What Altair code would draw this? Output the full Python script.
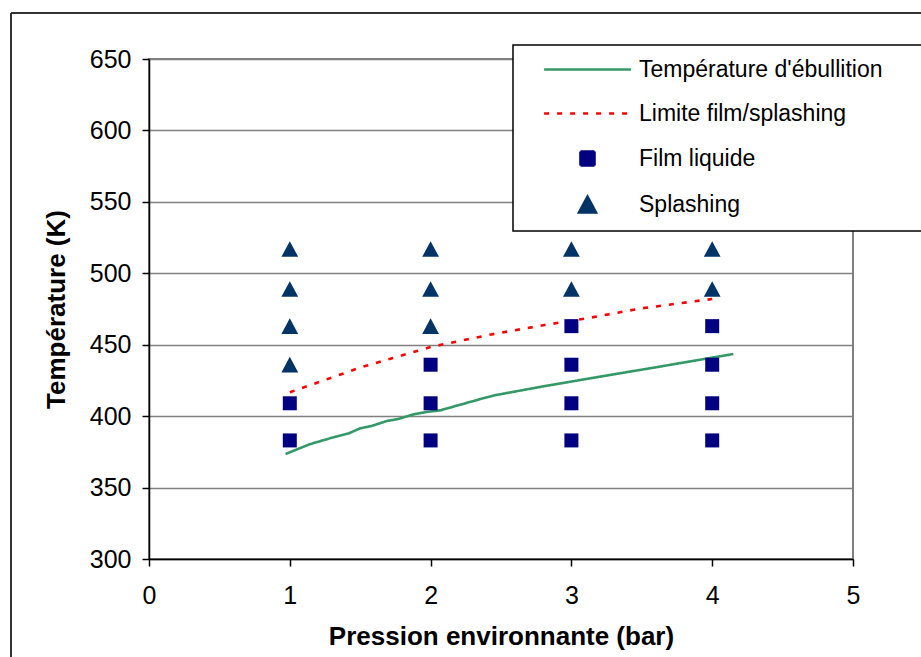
import altair as alt
import pandas as pd

# Series names (legend order)
SERIES = ["Température d'ébullition", "Limite film/splashing", "Film liquide", "Splashing"]
COLORS = ["#339966", "#FF0000", "#000080", "#003366"]

# Boiling temperature curve
boil_p = [0.97, 1.14, 1.31, 1.42, 1.50, 1.58, 1.69, 1.77, 1.88, 1.97, 2.07, 2.16, 2.33, 2.45, 2.78, 3.20, 3.60, 4.15]
boil_t = [373.5, 380.3, 385.2, 388.0, 391.5, 393.1, 396.6, 398.0, 401.3, 402.9, 404.1, 406.6, 411.3, 414.5, 420.5, 427.6, 434.2, 443.5]

# Film / splashing boundary
limit_p = [1.0, 1.5, 2.0, 2.42, 2.81, 3.11, 3.5, 4.0]
limit_t = [416.7, 434.0, 448.4, 457.0, 463.8, 468.5, 475.5, 482.0]

# Observations
film_p = [1, 1, 2, 2, 2, 3, 3, 3, 3, 4, 4, 4, 4]
film_t = [383, 409, 383, 409, 436, 383, 409, 436, 463, 383, 409, 436, 463]
splash_p = [1, 1, 1, 1, 2, 2, 2, 3, 3, 4, 4]
splash_t = [436, 463, 489, 517, 463, 489, 517, 489, 517, 489, 517]

lines = pd.concat([
    pd.DataFrame({"p": boil_p, "t": boil_t, "serie": SERIES[0]}),
    pd.DataFrame({"p": limit_p, "t": limit_t, "serie": SERIES[1]}),
])
points = pd.concat([
    pd.DataFrame({"p": film_p, "t": film_t, "serie": SERIES[2]}),
    pd.DataFrame({"p": splash_p, "t": splash_t, "serie": SERIES[3]}),
])

FONT = "Liberation Sans"

x_enc = alt.X("p:Q", scale=alt.Scale(domain=[0, 5], nice=False),
              axis=alt.Axis(values=[0, 1, 2, 3, 4, 5], title="Pression environnante (bar)",
                            grid=False, format="d"))
y_enc = alt.Y("t:Q", scale=alt.Scale(domain=[300, 650], nice=False, zero=False),
              axis=alt.Axis(values=list(range(300, 651, 50)), title="Température (K)", grid=True))

legend = alt.Legend(title=None, orient="none", legendX=427, legendY=-1)

LINE_SYM = "M-6.2,0H6.2"
TRI_SYM = "M0,-1.12L1.2,1.12L-1.2,1.12Z"

color = alt.Color("serie:N", scale=alt.Scale(domain=SERIES, range=COLORS), legend=legend)
shape = alt.Shape("serie:N", scale=alt.Scale(domain=SERIES,
                  range=[LINE_SYM, LINE_SYM, "square", TRI_SYM]), legend=legend)
dash = alt.StrokeDash("serie:N", scale=alt.Scale(domain=SERIES,
                      range=[[1, 0], [5, 8], [1, 0], [1, 0]]), legend=legend)

line_layer = alt.Chart(lines).mark_line(strokeWidth=2.6).encode(
    x=x_enc, y=y_enc, color=color, strokeDash=dash, detail="serie:N")

point_layer = alt.Chart(points).mark_point(filled=True, opacity=1, size=196).encode(
    x=x_enc, y=y_enc, color=color, shape=shape)

# Legend frame (white box with black border)
box = alt.Chart(pd.DataFrame({"k": [0]})).mark_rect(
    fill="white", stroke="black", strokeWidth=1.5).encode(
    x=alt.value(364), x2=alt.value(800), y=alt.value(-14), y2=alt.value(172))

# Outer chart frame
frame_left = alt.Chart(pd.DataFrame({"k": [0]})).mark_rule(color="#333333", strokeWidth=2).encode(
    x=alt.value(-138), y=alt.value(-46), y2=alt.value(700))
frame_top = alt.Chart(pd.DataFrame({"k": [0]})).mark_rule(color="#333333", strokeWidth=2).encode(
    x=alt.value(-138), x2=alt.value(900), y=alt.value(-46))

chart = alt.layer(frame_left, frame_top, line_layer, point_layer, box).properties(
    width=704, height=500,
    autosize=alt.AutoSizeParams(type="none"),
    padding={"left": 149, "top": 59, "right": 68, "bottom": 98},
    background="white",
).configure_view(
    stroke="#808080", strokeWidth=2
).configure_axis(
    labelFont=FONT, labelFontSize=25, labelColor="black", labelFlush=False,
    titleFont=FONT, titleFontSize=26, titleFontWeight="bold", titleColor="black",
    domainColor="black", domainWidth=1.5, tickColor="black", tickSize=7, tickWidth=1.5,
    gridColor="#808080", gridWidth=1.5,
).configure_axisX(
    labelPadding=17, titlePadding=15,
).configure_axisY(
    labelPadding=11, titlePadding=20,
).configure_legend(
    labelFont=FONT, labelFontSize=23, labelColor="black", labelLimit=500,
    symbolSize=196, symbolStrokeWidth=2.6, labelOffset=40, rowPadding=20,
    symbolOpacity=1,
)

chart.save("out.html", embed_options={"renderer": "svg", "actions": False})
